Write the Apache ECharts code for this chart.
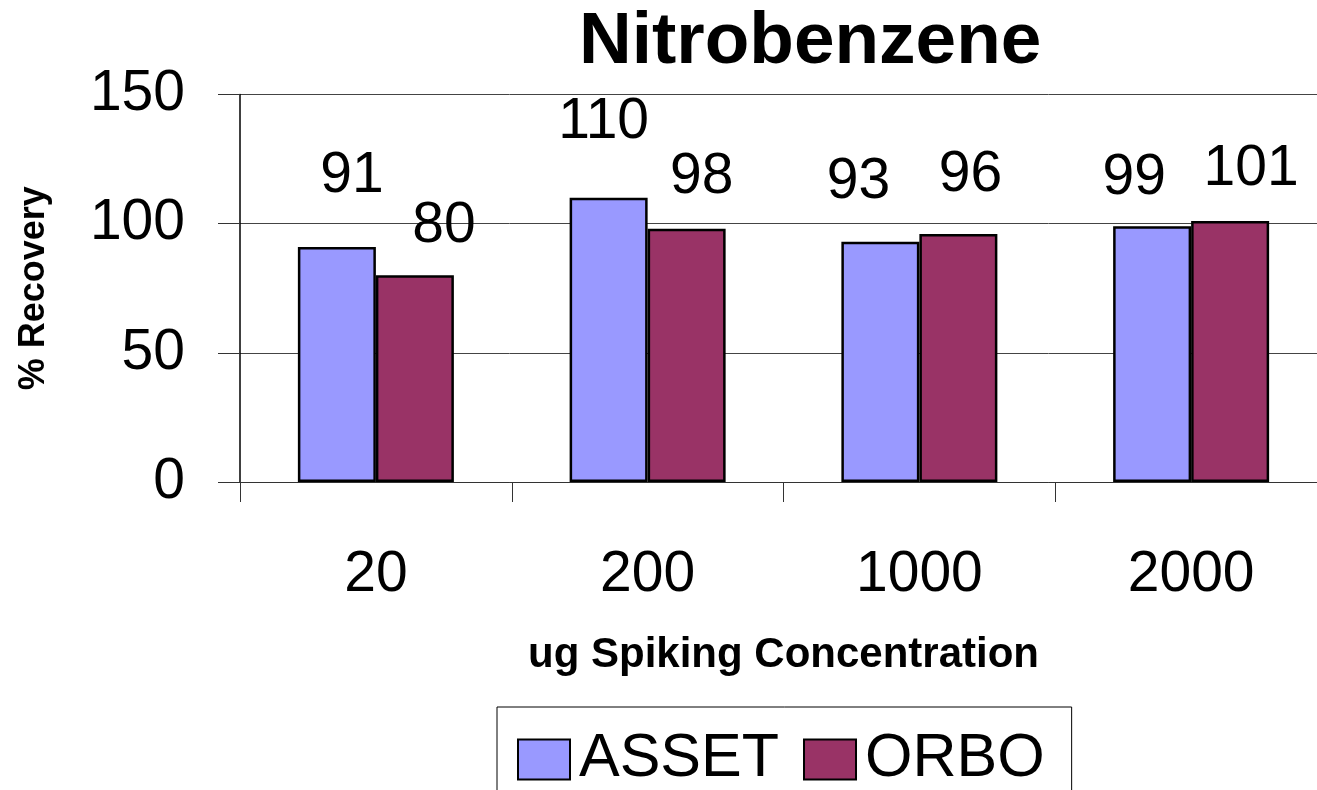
<!DOCTYPE html>
<html>
<head>
<meta charset="utf-8">
<script src="https://cdn.jsdelivr.net/npm/echarts@6/dist/echarts.min.js"></script>
<style>
  html, body { margin: 0; padding: 0; background: #fff; }
  #main { width: 1317px; height: 790px; }
</style>
</head>
<body>
<div id="main"></div>
<script>
const concentrations = ['20', '200', '1000', '2000']
const assetRecovery = [91, 110, 93, 99]
const orboRecovery = [80, 98, 96, 101]
const recoveryTicks = [0, 50, 100, 150]

const font = "'Liberation Sans', Arial, sans-serif"

// hand-placed labels in the original, nudged per bar
const assetNudge = [[15, -71], [-5, -76], [-22, -59], [-18, -48]]
const orboNudge = [[29, -49], [15, -52], [12, -59], [21, -52]]

function withLabels(values, nudges) {
  return values.map((v, i) => ({
    value: v,
    label: { offset: nudges[i] }
  }))
}

const chart = echarts.init(document.getElementById('main'))

const barLabel = {
  show: true,
  position: 'top',
  distance: 0,
  verticalAlign: 'middle',
  color: '#000',
  fontFamily: font,
  fontSize: 57
}

chart.setOption({
  animation: false,
  backgroundColor: '#fff',
  title: {
    text: 'Nitrobenzene',
    left: 574,
    top: 1,
    textStyle: { fontFamily: font, fontSize: 73, fontWeight: 'bold', color: '#000' }
  },
  legend: {
    left: 497,
    top: 707,
    padding: [22, 27, 30, 20],
    borderColor: '#000',
    borderWidth: 1,
    icon: 'rect',
    itemWidth: 52,
    itemHeight: 40,
    itemGap: 24,
    textStyle: { fontFamily: font, fontSize: 61, color: '#000', padding: [0, 0, 0, 4] },
    data: ['ASSET', 'ORBO']
  },
  grid: { left: 240, top: 94.5, width: 1087, height: 387.5, outerBoundsMode: 'none' },
  xAxis: {
    type: 'category',
    data: concentrations,
    name: 'ug Spiking Concentration',
    nameLocation: 'middle',
    nameGap: 152,
    nameTextStyle: { fontFamily: font, fontSize: 42, fontWeight: 'bold', color: '#000' },
    axisLine: { lineStyle: { color: '#333', width: 1 } },
    axisTick: { show: true, length: 20, interval: 0, lineStyle: { color: '#333' } },
    axisLabel: { margin: 65, fontFamily: font, fontSize: 57, color: '#000', interval: 0 }
  },
  yAxis: {
    type: 'value',
    min: recoveryTicks[0],
    max: recoveryTicks[recoveryTicks.length - 1],
    interval: 50,
    name: '% Recovery',
    nameLocation: 'middle',
    nameGap: 188,
    nameRotate: 90,
    nameTextStyle: { fontFamily: font, fontSize: 36, fontWeight: 'bold', color: '#000' },
    axisLine: { show: true, lineStyle: { color: '#000', width: 1.5 } },
    axisTick: { show: true, length: 22, lineStyle: { color: '#333' } },
    splitLine: { lineStyle: { color: '#444', width: 1 } },
    axisLabel: { margin: 55, fontFamily: font, fontSize: 57, color: '#000' }
  },
  series: [
    {
      name: 'ASSET',
      type: 'bar',
      barWidth: 78,
      barGap: '0%',
      itemStyle: { color: '#9999FF', borderColor: '#000', borderWidth: 2.5 },
      label: barLabel,
      data: withLabels(assetRecovery, assetNudge)
    },
    {
      name: 'ORBO',
      type: 'bar',
      barWidth: 78,
      barGap: '0%',
      itemStyle: { color: '#993366', borderColor: '#000', borderWidth: 2.5 },
      label: barLabel,
      data: withLabels(orboRecovery, orboNudge)
    }
  ]
})
</script>
</body>
</html>
